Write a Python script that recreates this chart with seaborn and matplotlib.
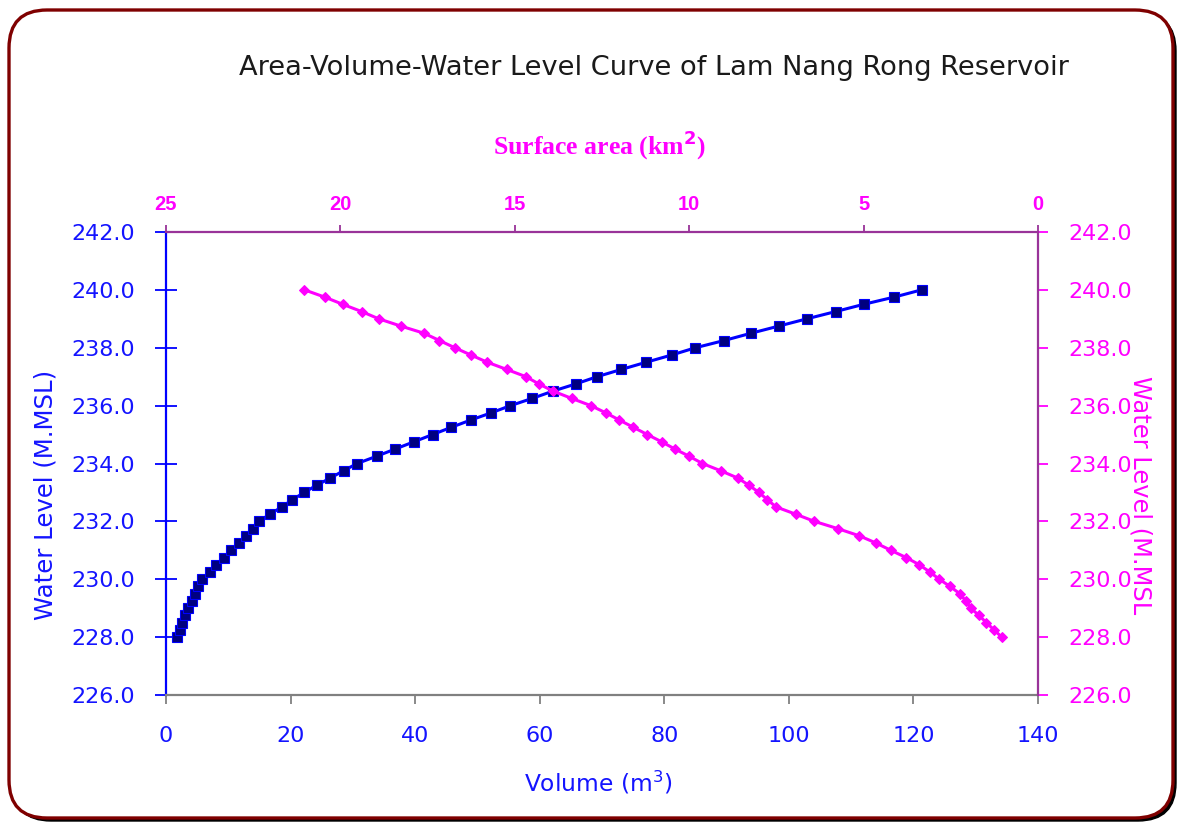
import matplotlib
matplotlib.use("Agg")
import matplotlib.pyplot as plt
from matplotlib.patches import FancyBboxPatch
import seaborn as sns
import pandas as pd

# ---- data ----
water_level = [228.0, 228.25, 228.5, 228.75, 229.0, 229.25, 229.5, 229.75,
               230.0, 230.25, 230.5, 230.75, 231.0, 231.25, 231.5, 231.75,
               232.0, 232.25, 232.5, 232.75, 233.0, 233.25, 233.5, 233.75,
               234.0, 234.25, 234.5, 234.75, 235.0, 235.25, 235.5, 235.75,
               236.0, 236.25, 236.5, 236.75, 237.0, 237.25, 237.5, 237.75,
               238.0, 238.25, 238.5, 238.75, 239.0, 239.25, 239.5, 239.75,
               240.0]
volume = [1.8, 2.2, 2.6, 3.0, 3.5, 4.1, 4.7, 5.2,
          5.8, 7.1, 8.0, 9.3, 10.4, 11.7, 12.8, 14.0,
          14.9, 16.7, 18.6, 20.3, 22.2, 24.2, 26.4, 28.5,
          30.7, 33.8, 36.8, 39.8, 42.8, 45.8, 48.9, 52.2,
          55.3, 58.8, 62.1, 65.8, 69.2, 73.1, 77.1, 81.2,
          85.0, 89.6, 93.9, 98.4, 102.9, 107.5, 112.0, 116.9,
          121.3]
surface_area = [1.04, 1.26, 1.48, 1.69, 1.93, 2.07, 2.24, 2.52,
                2.83, 3.10, 3.40, 3.78, 4.22, 4.64, 5.12, 5.74,
                6.41, 6.95, 7.51, 7.76, 8.00, 8.29, 8.61, 9.10,
                9.62, 10.00, 10.41, 10.79, 11.20, 11.60, 12.00, 12.39,
                12.82, 13.37, 13.90, 14.31, 14.68, 15.23, 15.79, 16.26,
                16.72, 17.16, 17.60, 18.27, 18.90, 19.39, 19.93, 20.45,
                21.03]
volume_ticks = [0, 20, 40, 60, 80, 100, 120, 140]
area_ticks = [25, 20, 15, 10, 5, 0]
level_ticks = [226, 228, 230, 232, 234, 236, 238, 240, 242]

df = pd.DataFrame({"level": water_level, "volume": volume, "area": surface_area})

sns.set_theme(style="white")
plt.rcParams['font.family'] = ['DejaVu Sans']

W, H = 1182, 822
fig = plt.figure(figsize=(W / 100, H / 100), dpi=100)
fig.patch.set_facecolor("white")

# background frame (pixel coordinates)
bg = fig.add_axes([0, 0, 1, 1], zorder=-5)
bg.set_xlim(0, W)
bg.set_ylim(H, 0)
bg.axis("off")
shadow = FancyBboxPatch((13, 13), 1163, 808, boxstyle="round,pad=0,rounding_size=38",
                        facecolor="black", edgecolor="black", lw=1)
bg.add_patch(shadow)
frame = FancyBboxPatch((9, 10), 1164, 808, boxstyle="round,pad=0,rounding_size=38",
                       facecolor="white", edgecolor="#7f0000", lw=2.4)
bg.add_patch(frame)

BLUE = "#1414ff"
MAG = "#ff00ff"
PURP = "#993399"

pos = [166 / W, 1 - 695 / H, (1038 - 166) / W, (695 - 232) / H]
ax = fig.add_axes(pos)
ax.set_facecolor("none")
sns.lineplot(data=df, x="volume", y="level", ax=ax, sort=False, estimator=None,
             color="#0000ff", lw=2.2, marker="s", markersize=7,
             markerfacecolor="#000080", markeredgecolor="#0000ff", markeredgewidth=0.8)
ax.set_xlim(0, 140)
ax.set_ylim(226, 242)
ax.set_xticks(volume_ticks)
ax.set_yticks(level_ticks)
ax.set_yticklabels([f"{v:.1f}" for v in level_ticks])
ax.set_xlabel("")
ax.set_ylabel("")
for s in ["top", "right"]:
    ax.spines[s].set_visible(False)
ax.spines["left"].set_color("#0000ff")
ax.spines["left"].set_linewidth(1.6)
ax.spines["bottom"].set_color("#808080")
ax.spines["bottom"].set_linewidth(1.6)
ax.tick_params(axis="y", direction="inout", length=16, width=1.3, color="#0000ff",
               labelcolor=BLUE, labelsize=16, pad=14, left=True)
ax.tick_params(axis="x", direction="out", length=6.5, width=1.3, color="#808080",
               labelcolor=BLUE, labelsize=16, pad=16, bottom=True)

ax2 = fig.add_axes(pos)
ax2.set_facecolor("none")
sns.lineplot(data=df, x="area", y="level", ax=ax2, sort=False, estimator=None,
             color=MAG, lw=2.2, marker="D", markersize=4.8,
             markerfacecolor=MAG, markeredgecolor=MAG)
ax2.set_xlim(25, 0)
ax2.set_ylim(226, 242)
ax2.xaxis.tick_top()
ax2.yaxis.tick_right()
ax2.set_xticks(area_ticks)
ax2.set_yticks(level_ticks)
ax2.set_yticklabels([f"{v:.1f}" for v in level_ticks])
ax2.set_xlabel("")
ax2.set_ylabel("")
for s in ["left", "bottom"]:
    ax2.spines[s].set_visible(False)
ax2.spines["top"].set_color(PURP)
ax2.spines["top"].set_linewidth(1.6)
ax2.spines["right"].set_color(PURP)
ax2.spines["right"].set_linewidth(1.6)
ax2.tick_params(axis="y", direction="out", length=7, width=1.3, color=MAG,
                labelcolor=MAG, labelsize=16, pad=15, right=True, left=False)
ax2.tick_params(axis="x", direction="out", length=5, width=1.3, color=PURP,
                labelcolor=MAG, labelsize=14.5, pad=8, top=True, bottom=False)
for t in ax2.get_xticklabels():
    t.set_fontweight("bold")
    t.set_family("Liberation Sans")

# titles / labels
fig.text(654 / W, 1 - 68 / H, "Area-Volume-Water Level Curve of Lam Nang Rong Reservoir",
         ha="center", va="center", fontsize=19.6, color="#1a1a1a")
fig.text(600 / W, 1 - 145 / H, "Surface area (km$^\\mathbf{2}$)", ha="center", va="center",
         fontsize=18.5, fontweight="bold", family="Liberation Serif", color=MAG)
fig.text(598 / W, 1 - 783 / H, "Volume (m$^3$)", ha="center", va="center",
         fontsize=16.8, color=BLUE)
fig.text(45 / W, 1 - 495 / H, "Water Level (M.MSL)", ha="center", va="center",
         rotation=90, fontsize=17.6, color=BLUE)
fig.text(1141 / W, 1 - 495 / H, "Water Level (M.MSL", ha="center", va="center",
         rotation=270, fontsize=17.4, color=MAG)

fig.savefig("out.png", dpi=100, facecolor="white")
